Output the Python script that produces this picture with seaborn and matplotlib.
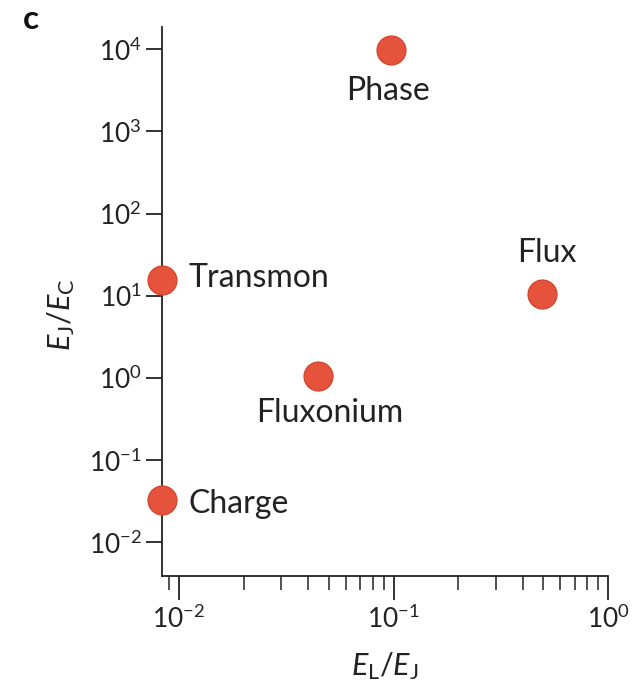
import matplotlib
matplotlib.use("Agg")
import matplotlib.pyplot as plt
import matplotlib.ticker as mticker
import seaborn as sns
import pandas as pd
import numpy as np

# ---- data ----
qubits = ["Phase", "Flux", "Transmon", "Fluxonium", "Charge"]
el_over_ej = [0.097, 0.495, 0.0083, 0.0443, 0.0083]
ej_over_ec = [9800.0, 10.5, 15.7, 1.06, 0.033]

x_ticks = [1e-2, 1e-1, 1e0]
y_ticks = [1e-2, 1e-1, 1e0, 1e1, 1e2, 1e3, 1e4]

df = pd.DataFrame({"qubit": qubits, "EL_EJ": el_over_ej, "EJ_EC": ej_over_ec})

# ---- style ----
sns.set_theme(style="ticks")
plt.rcParams["font.family"] = ["Lato", "DejaVu Sans"]
plt.rcParams["mathtext.fontset"] = "custom"
plt.rcParams["mathtext.rm"] = "Lato"
plt.rcParams["mathtext.it"] = "Lato:italic"
plt.rcParams["mathtext.bf"] = "Lato:bold"

DOT = "#E5533D"
EDGE = "#D4472F"
INK = "#222222"

fig = plt.figure(figsize=(6.41, 6.90), dpi=100)
ax = fig.add_axes([162 / 641, 1 - 576 / 690, (608 - 162) / 641, (576 - 27) / 690])

sns.scatterplot(data=df, x="EL_EJ", y="EJ_EC", ax=ax, s=430, color=DOT,
                edgecolor=EDGE, linewidth=1.0, zorder=5, legend=False)
for coll in ax.collections:
    coll.set_clip_on(False)

ax.set_xscale("log")
ax.set_yscale("log")
ax.set_xlim(0.00833, 1.0)
ax.set_ylim(10 ** -2.41, 10 ** 4.27)

ax.xaxis.set_major_locator(mticker.FixedLocator(x_ticks))
ax.xaxis.set_minor_locator(mticker.LogLocator(base=10, subs=np.arange(2, 10)))
ax.yaxis.set_major_locator(mticker.FixedLocator(y_ticks))
ax.yaxis.set_minor_locator(mticker.NullLocator())

def fmt(v, pos):
    e = int(round(np.log10(v)))
    return r"$\mathregular{10^{%d}}$" % e

ax.xaxis.set_major_formatter(mticker.FuncFormatter(fmt))
ax.yaxis.set_major_formatter(mticker.FuncFormatter(fmt))
ax.xaxis.set_minor_formatter(mticker.NullFormatter())

sns.despine(ax=ax)
for sp in ["left", "bottom"]:
    ax.spines[sp].set_linewidth(1.3)
    ax.spines[sp].set_color(INK)

ax.tick_params(axis="x", which="major", length=17, width=1.3, pad=4,
               labelsize=19, colors=INK)
ax.tick_params(axis="x", which="minor", length=10, width=1.1, colors=INK)
ax.tick_params(axis="y", which="major", length=11.5, width=1.3, pad=3,
               labelsize=19, colors=INK)

ax.set_xlabel(r"$E_\mathregular{L}/E_\mathregular{J}$", fontsize=22, color=INK)
ax.set_ylabel(r"$E_\mathregular{J}/E_\mathregular{C}$", fontsize=22, color=INK)
ax.xaxis.set_label_coords(0.5, -0.135)
ax.yaxis.set_label_coords(-0.19, 0.475)

# label placement (offset points, alignment)
label_style = {
    "Phase": ((-2, -36), "center"),
    "Flux": ((3, 23), "center"),
    "Transmon": ((19, -5), "left"),
    "Fluxonium": ((9, -33), "center"),
    "Charge": ((19, -9.4), "left"),
}
for q, xv, yv in zip(qubits, el_over_ej, ej_over_ec):
    off, ha = label_style[q]
    ax.annotate(q, (xv, yv), xytext=off, textcoords="offset points",
                ha=ha, va="baseline", fontsize=23, color=INK,
                annotation_clip=False)

fig.text(23 / 641, 1 - 29 / 690, "c", fontsize=24, fontweight="bold",
         color="#111111", ha="left", va="baseline")

fig.savefig("out.png", dpi=100)
